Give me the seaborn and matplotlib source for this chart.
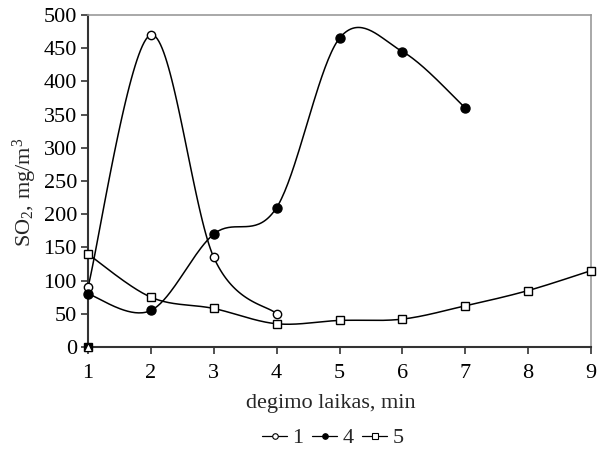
import numpy as np
import pandas as pd
import matplotlib
matplotlib.use("Agg")
import matplotlib.pyplot as plt
from matplotlib.lines import Line2D
import seaborn as sns

x1 = [1, 2, 3, 4]
y1 = [90, 470, 135, 50]
x4 = [1, 2, 3, 4, 5, 6, 7]
y4 = [80, 55, 170, 210, 465, 445, 360]
x5 = [1, 2, 3, 4, 5, 6, 7, 8, 9]
y5 = [140, 75, 58, 35, 40, 42, 62, 85, 115]
series_names = ["1", "4", "5"]
x_ticks = [1, 2, 3, 4, 5, 6, 7, 8, 9]
y_ticks = [0, 50, 100, 150, 200, 250, 300, 350, 400, 450, 500]

sns.set_style("ticks")
plt.rcParams["font.family"] = ["Liberation Serif", "DejaVu Serif"]
plt.rcParams["mathtext.fontset"] = "custom"
plt.rcParams["mathtext.rm"] = "Liberation Serif"
plt.rcParams["mathtext.it"] = "Liberation Serif:italic"


def smooth(xs, ys, n=40):
    P = np.column_stack([xs, ys]).astype(float)
    sx, sy = 62.9, 0.664
    S = P * [sx, sy]
    pts = []
    m = len(S)
    for i in range(m - 1):
        p0 = S[i - 1] if i > 0 else S[i]
        p1 = S[i]
        p2 = S[i + 1]
        p3 = S[i + 2] if i + 2 < m else S[i + 1]
        c1 = p1 + (p2 - p0) / 6.0
        c2 = p2 - (p3 - p1) / 6.0
        t = np.linspace(0, 1, n)[:, None]
        seg = ((1 - t) ** 3) * p1 + 3 * ((1 - t) ** 2) * t * c1 + 3 * (1 - t) * t ** 2 * c2 + t ** 3 * p2
        pts.append(seg if i == 0 else seg[1:])
    Q = np.vstack(pts) / [sx, sy]
    return Q[:, 0], Q[:, 1]


fig = plt.figure(figsize=(6.06, 4.55), dpi=100)
ax = fig.add_axes([88 / 606, 1 - 347 / 455, (591 - 88) / 606, (347 - 15) / 455])

styles = [
    (x1, y1, "o", "white", 6.0),
    (x4, y4, "o", "black", 6.5),
    (x5, y5, "s", "white", 6.0),
]
for (xs, ys, mk, fc, ms), name in zip(styles, series_names):
    sxs, sys_ = smooth(xs, ys)
    dfl = pd.DataFrame({"x": sxs, "y": sys_})
    sns.lineplot(data=dfl, x="x", y="y", sort=False, estimator=None, ax=ax,
                 color="black", lw=1.1, zorder=2)
    ax.plot(xs, ys, linestyle="none", marker=mk, markersize=ms,
            markerfacecolor=fc, markeredgecolor="black", markeredgewidth=1.0,
            zorder=3, clip_on=False)

# stray markers at origin
ax.plot([1], [0], linestyle="none", marker="s", markersize=6, color="black", zorder=3, clip_on=False)
ax.plot([1], [0], linestyle="none", marker="^", markersize=5.5, markerfacecolor="white",
        markeredgecolor="black", markeredgewidth=0.8, zorder=4, clip_on=False)

ax.set_xlim(1, 9)
ax.set_ylim(0, 500)
ax.set_xticks(x_ticks)
ax.set_yticks(y_ticks)
ax.tick_params(axis="both", direction="out", length=5, width=1.2, labelsize=16,
               color="#333333", labelcolor="black")
ax.tick_params(axis="x", pad=7)
ax.tick_params(axis="y", pad=3)
for s in ["left", "bottom"]:
    ax.spines[s].set_color("#333333")
    ax.spines[s].set_linewidth(1.5)
for s in ["top", "right"]:
    ax.spines[s].set_color("#999999")
    ax.spines[s].set_linewidth(1.2)

ax.set_xlabel("degimo laikas, min", fontsize=16)
ax.xaxis.set_label_coords((331 - 88) / 503, -(394 - 347) / 332)
ax.set_ylabel(r"SO$_\mathrm{2}$, mg/m$^\mathrm{3}$", fontsize=16)
ax.yaxis.set_label_coords(-(88 - 39) / 503, (347 - 192) / 332)

handles = [
    Line2D([], [], color="black", lw=0.9, marker="o", markersize=4, markerfacecolor="white", markeredgecolor="black", markeredgewidth=0.8),
    Line2D([], [], color="black", lw=0.9, marker="o", markersize=4, markerfacecolor="black", markeredgecolor="black", markeredgewidth=0.8),
    Line2D([], [], color="black", lw=0.9, marker="s", markersize=4, markerfacecolor="white", markeredgecolor="black", markeredgewidth=0.8),
]
fig.legend(handles, series_names, loc="center", bbox_to_anchor=(333 / 606, 1 - 438 / 455),
           ncol=3, frameon=False, fontsize=16, handlelength=1.1, handletextpad=0.25,
           columnspacing=0.4)

fig.savefig("out.png", dpi=100)
